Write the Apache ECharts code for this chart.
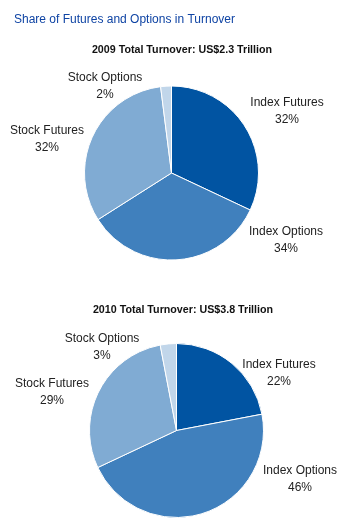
<!DOCTYPE html>
<html>
  <head>
    <meta charset="UTF-8" />
    <title></title>
    <style type="text/css">
      html,
      body {
        width: 100%;
        height: 100%;
        margin: 0;
        padding: 0;
        overflow: hidden;
        background: #fff;
      }
      #chart {
        width: 351px;
        height: 523px;
      }
    </style>
  </head>
  <body>
    <div id="chart"></div>
    <script
      type="text/javascript"
      src="https://cdn.jsdelivr.net/npm/echarts@6/dist/echarts.min.js"
    ></script>
    <script type="text/javascript">
      const categories = ["Index Futures", "Index Options", "Stock Futures", "Stock Options"];
      const values2009 = [32, 34, 32, 2];
      const values2010 = [22, 46, 29, 3];
      const colors = ["#0154a2", "#4080bd", "#80abd3", "#c1d6ea"];
      const subtitles = [
        "2009 Total Turnover: US$2.3 Trillion",
        "2010 Total Turnover: US$3.8 Trillion",
      ];

      const font = "'Liberation Sans', Arial, sans-serif";

      // label offsets from the pie centre (like Excel's best fit placement)
      const labelOffsets = [
        [[115.5, -61.5], [114.5, 67], [-124.5, -33.5], [-66.5, -86.5]],
        [[102.5, -57], [123.5, 48.5], [-124.5, -38.5], [-74.5, -83.5]],
      ];
      const centers = [[171.5, 173], [176.5, 430.5]];

      const toData = function (vals) {
        return vals.map(function (v, i) {
          return { name: categories[i], value: v, itemStyle: { color: colors[i] } };
        });
      };

      const makePie = function (vals, k) {
        return {
          type: "pie",
          radius: 87,
          center: centers[k],
          startAngle: 90,
          clockwise: true,
          animation: false,
          silent: true,
          itemStyle: { borderColor: "#fff", borderWidth: 1 },
          label: {
            show: true,
            position: "outside",
            formatter: "{b}\n{d}%",
            fontFamily: font,
            fontSize: 12,
            lineHeight: 17,
            color: "#222",
            overflow: "none",
          },
          labelLine: { show: false },
          labelLayout: function (p) {
            const off = labelOffsets[k][p.dataIndex];
            return {
              x: centers[k][0] + off[0],
              y: centers[k][1] + off[1],
              align: "center",
              verticalAlign: "middle",
            };
          },
          data: toData(vals),
        };
      };

      const mychart = echarts.init(document.getElementById("chart"));
      mychart.setOption({
        backgroundColor: "#fff",
        title: [
          {
            text: "Share of Futures and Options in Turnover",
            left: 9,
            top: 9,
            textStyle: { color: "#0f44a4", fontSize: 12, fontWeight: "normal", fontFamily: font },
          },
          {
            text: subtitles[0],
            left: 177,
            textAlign: "center",
            top: 40,
            textStyle: { color: "#111", fontSize: 10.7, fontWeight: "bold", fontFamily: font },
          },
          {
            text: subtitles[1],
            left: 178,
            textAlign: "center",
            top: 300,
            textStyle: { color: "#111", fontSize: 10.7, fontWeight: "bold", fontFamily: font },
          },
        ],
        series: [makePie(values2009, 0), makePie(values2010, 1)],
      });
    </script>
  </body>
</html>
